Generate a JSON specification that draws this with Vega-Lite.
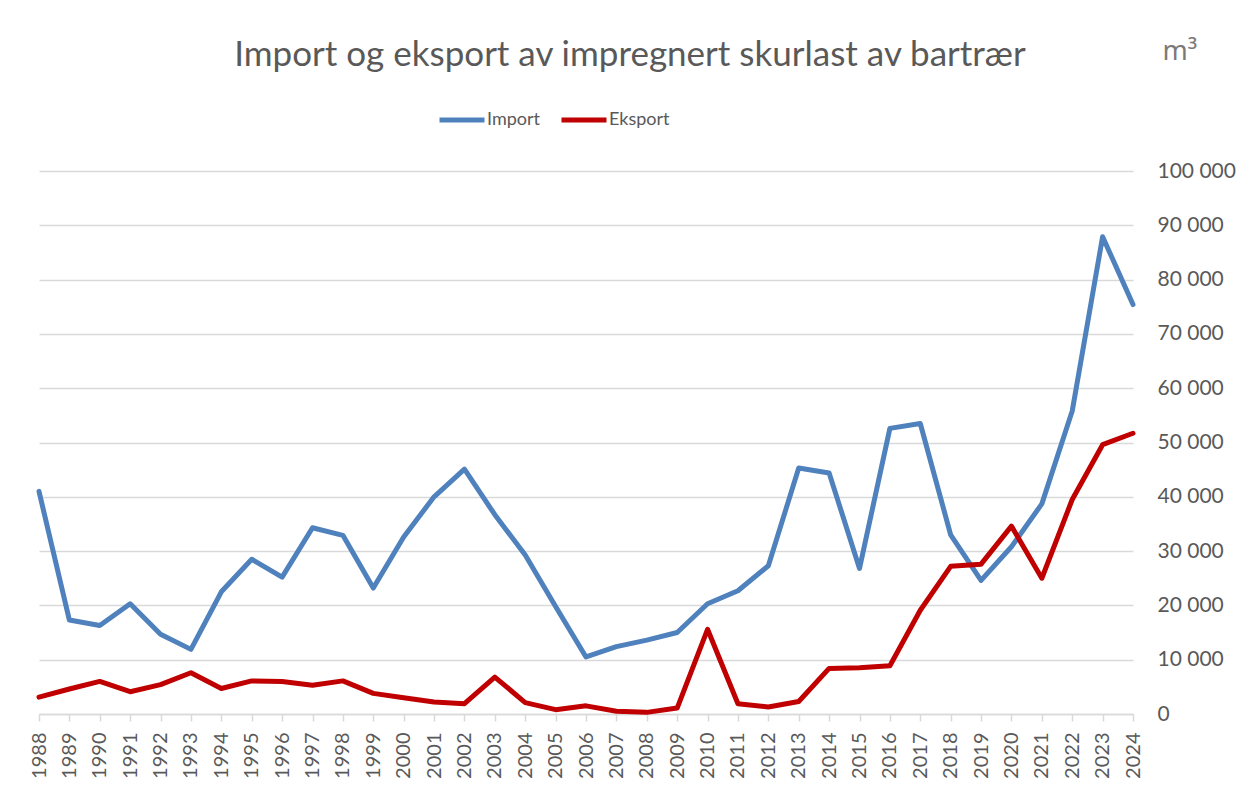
{
  "$schema": "https://vega.github.io/schema/vega-lite/v6.json",
  "width": 1094,
  "height": 543,
  "autosize": {"type": "none"},
  "padding": {"left": 39, "top": 171, "right": 107, "bottom": 76},
  "background": "white",
  "config": {
    "font": "Lato",
    "view": {"stroke": null},
    "locale": {"number": {"decimal": ",", "thousands": " ", "grouping": [3], "currency": ["", " kr"]}}
  },
  "title": {
    "text": "Import og eksport av impregnert skurlast av bartrær",
    "font": "Lato",
    "fontSize": 35,
    "fontWeight": "normal",
    "color": "#595959",
    "anchor": "middle",
    "baseline": "alphabetic",
    "offset": -64,
    "dx": 44
  },
  "data": {
    "values": [
      {"year": "1988", "series": "Import", "value": 41000},
      {"year": "1989", "series": "Import", "value": 17300},
      {"year": "1990", "series": "Import", "value": 16300},
      {"year": "1991", "series": "Import", "value": 20300},
      {"year": "1992", "series": "Import", "value": 14700},
      {"year": "1993", "series": "Import", "value": 11900},
      {"year": "1994", "series": "Import", "value": 22500},
      {"year": "1995", "series": "Import", "value": 28500},
      {"year": "1996", "series": "Import", "value": 25200},
      {"year": "1997", "series": "Import", "value": 34300},
      {"year": "1998", "series": "Import", "value": 32900},
      {"year": "1999", "series": "Import", "value": 23200},
      {"year": "2000", "series": "Import", "value": 32600},
      {"year": "2001", "series": "Import", "value": 40000},
      {"year": "2002", "series": "Import", "value": 45100},
      {"year": "2003", "series": "Import", "value": 36700},
      {"year": "2004", "series": "Import", "value": 29300},
      {"year": "2005", "series": "Import", "value": 19800},
      {"year": "2006", "series": "Import", "value": 10500},
      {"year": "2007", "series": "Import", "value": 12400},
      {"year": "2008", "series": "Import", "value": 13600},
      {"year": "2009", "series": "Import", "value": 15000},
      {"year": "2010", "series": "Import", "value": 20300},
      {"year": "2011", "series": "Import", "value": 22700},
      {"year": "2012", "series": "Import", "value": 27300},
      {"year": "2013", "series": "Import", "value": 45300},
      {"year": "2014", "series": "Import", "value": 44400},
      {"year": "2015", "series": "Import", "value": 26800},
      {"year": "2016", "series": "Import", "value": 52600},
      {"year": "2017", "series": "Import", "value": 53500},
      {"year": "2018", "series": "Import", "value": 33000},
      {"year": "2019", "series": "Import", "value": 24600},
      {"year": "2020", "series": "Import", "value": 30800},
      {"year": "2021", "series": "Import", "value": 38700},
      {"year": "2022", "series": "Import", "value": 55800},
      {"year": "2023", "series": "Import", "value": 87900},
      {"year": "2024", "series": "Import", "value": 75400},
      {"year": "1988", "series": "Eksport", "value": 3100},
      {"year": "1989", "series": "Eksport", "value": 4600},
      {"year": "1990", "series": "Eksport", "value": 6000},
      {"year": "1991", "series": "Eksport", "value": 4100},
      {"year": "1992", "series": "Eksport", "value": 5400},
      {"year": "1993", "series": "Eksport", "value": 7600},
      {"year": "1994", "series": "Eksport", "value": 4700},
      {"year": "1995", "series": "Eksport", "value": 6100},
      {"year": "1996", "series": "Eksport", "value": 6000},
      {"year": "1997", "series": "Eksport", "value": 5300},
      {"year": "1998", "series": "Eksport", "value": 6100},
      {"year": "1999", "series": "Eksport", "value": 3800},
      {"year": "2000", "series": "Eksport", "value": 3000},
      {"year": "2001", "series": "Eksport", "value": 2200},
      {"year": "2002", "series": "Eksport", "value": 1900},
      {"year": "2003", "series": "Eksport", "value": 6800},
      {"year": "2004", "series": "Eksport", "value": 2100},
      {"year": "2005", "series": "Eksport", "value": 800},
      {"year": "2006", "series": "Eksport", "value": 1500},
      {"year": "2007", "series": "Eksport", "value": 500},
      {"year": "2008", "series": "Eksport", "value": 300},
      {"year": "2009", "series": "Eksport", "value": 1100},
      {"year": "2010", "series": "Eksport", "value": 15600},
      {"year": "2011", "series": "Eksport", "value": 1900},
      {"year": "2012", "series": "Eksport", "value": 1300},
      {"year": "2013", "series": "Eksport", "value": 2300},
      {"year": "2014", "series": "Eksport", "value": 8400},
      {"year": "2015", "series": "Eksport", "value": 8500},
      {"year": "2016", "series": "Eksport", "value": 8900},
      {"year": "2017", "series": "Eksport", "value": 19100},
      {"year": "2018", "series": "Eksport", "value": 27200},
      {"year": "2019", "series": "Eksport", "value": 27600},
      {"year": "2020", "series": "Eksport", "value": 34600},
      {"year": "2021", "series": "Eksport", "value": 25000},
      {"year": "2022", "series": "Eksport", "value": 39500},
      {"year": "2023", "series": "Eksport", "value": 49600},
      {"year": "2024", "series": "Eksport", "value": 51700}
    ]
  },
  "mark": {"type": "line", "strokeWidth": 5, "strokeJoin": "round", "strokeCap": "round"},
  "encoding": {
    "x": {
      "field": "year",
      "type": "ordinal",
      "scale": {"type": "point", "padding": 0},
      "axis": {
        "title": null,
        "labelAngle": 270,
        "labelAlign": "right",
        "labelBaseline": "middle",
        "labelFontSize": 20,
        "labelColor": "#595959",
        "labelPadding": 11,
        "domainColor": "#d9d9d9",
        "domainWidth": 1.5,
        "tickColor": "#d9d9d9",
        "tickWidth": 1.5,
        "tickSize": 7,
        "grid": false
      }
    },
    "y": {
      "field": "value",
      "type": "quantitative",
      "scale": {"domain": [0, 100000]},
      "axis": {
        "orient": "right",
        "values": [0, 10000, 20000, 30000, 40000, 50000, 60000, 70000, 80000, 90000, 100000],
        "format": ",d",
        "domain": false,
        "ticks": false,
        "grid": true,
        "gridColor": "#d9d9d9",
        "gridWidth": 1.5,
        "labelFontSize": 21,
        "labelColor": "#595959",
        "labelAlign": "left",
        "labelBaseline": "middle",
        "labelPadding": 24,
        "title": "m³",
        "titleFont": "Noto Sans",
        "titleAngle": 0,
        "titleAlign": "left",
        "titleBaseline": "alphabetic",
        "titleX": 29,
        "titleY": -112,
        "titleFontSize": 27,
        "titleFontWeight": "normal",
        "titleColor": "#7a7a7a"
      }
    },
    "color": {
      "field": "series",
      "type": "nominal",
      "scale": {"domain": ["Import", "Eksport"], "range": ["#4F81BD", "#C00000"]},
      "legend": {
        "title": null,
        "orient": "none",
        "direction": "horizontal",
        "legendX": 398,
        "legendY": -76,
        "symbolType": "stroke",
        "symbolSize": 2025,
        "symbolStrokeWidth": 5,
        "labelFontSize": 18,
        "labelColor": "#595959",
        "labelOffset": 0,
        "columnPadding": 10
      }
    }
  }
}
